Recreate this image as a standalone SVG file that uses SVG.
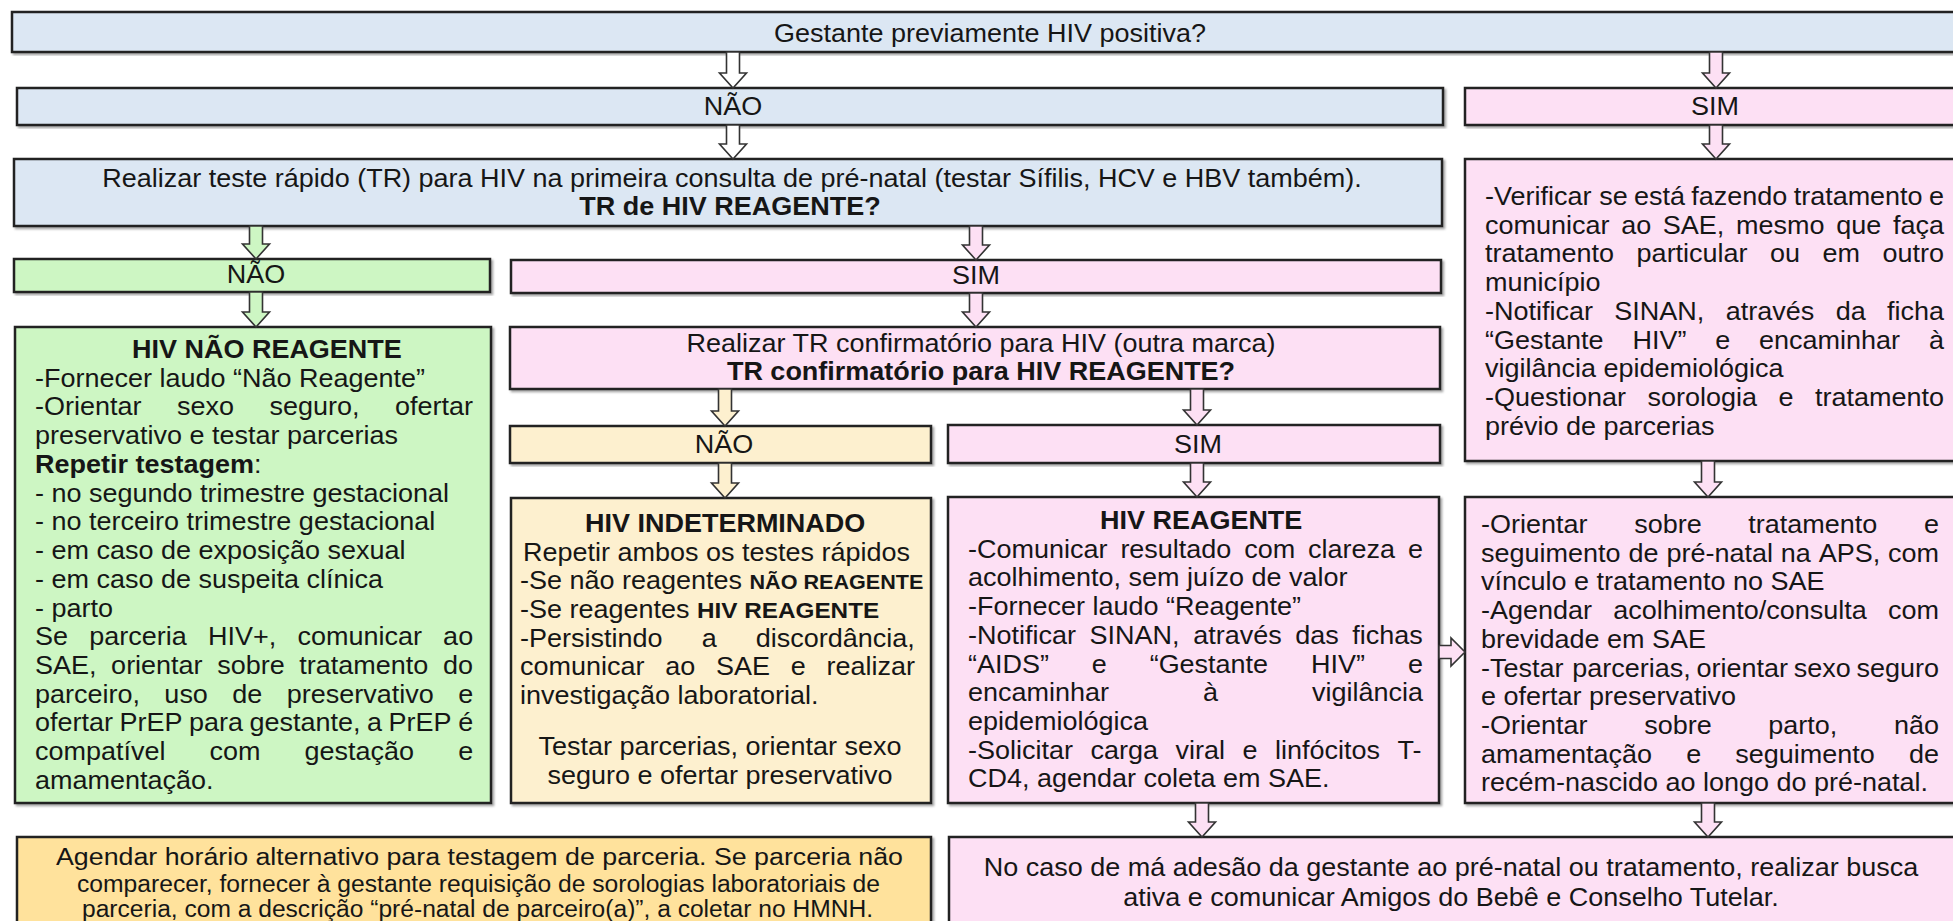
<svg xmlns="http://www.w3.org/2000/svg" width="1953" height="921" viewBox="0 0 1953 921">
<defs>
<filter id="sh" x="-2%" y="-5%" width="104%" height="115%"><feDropShadow dx="2" dy="2" stdDeviation="1.2" flood-color="#000" flood-opacity="0.35"/></filter>
<style>
.b{stroke:#222;stroke-width:2.5;filter:url(#sh)}
.blue{fill:#dce7f3}.pink{fill:#fde0f4}.green{fill:#cdf6c3}.ylw{fill:#fdf0cf}.ylw2{fill:#ffe29c}
.arr{stroke:#333;stroke-width:1.6;stroke-linejoin:miter}
.aw{fill:#ffffff}.ap{fill:#fde0f4}.ag{fill:#cdf6c3}.ay{fill:#fdf0cf}
text{font-family:"Liberation Sans",Arial,Helvetica,sans-serif;font-size:25px;fill:#161616}
.c{text-anchor:middle}.bd{font-weight:bold}.s20{font-size:20px}.s22{font-size:22.5px}.s23{font-size:23px}
</style>
</defs>
<rect width="1953" height="921" fill="#ffffff"/>

<g id="q1">
<rect class="b blue" x="12" y="12" width="1948" height="40"/>
<text class="c" transform="translate(990 42) scale(1.08 1)">Gestante previamente HIV positiva?</text>
</g>
<g id="nao1">
<rect class="b blue" x="17" y="88" width="1426" height="37"/>
<text class="c" transform="translate(733 115) scale(1.08 1)">NÃO</text>
</g>
<g id="sim1">
<rect class="b pink" x="1465" y="88" width="495" height="37"/>
<text class="c" transform="translate(1715 115) scale(1.08 1)">SIM</text>
</g>
<g id="tr1">
<rect class="b blue" x="14" y="159" width="1428" height="67"/>
<text class="c" transform="translate(732 187) scale(1.08 1)">Realizar teste rápido (TR) para HIV na primeira consulta de pré-natal (testar Sífilis, HCV e HBV também).</text>
<text class="c bd" transform="translate(730 215) scale(1.08 1)">TR de HIV REAGENTE?</text>
</g>
<g id="pos">
<rect class="b pink" x="1465" y="159" width="495" height="302"/>
<g transform="translate(1485 0) scale(1.08 1)">
<text y="205"><tspan x="0">-Verificar</tspan> <tspan x="105.8">se</tspan> <tspan x="138">está</tspan> <tspan x="191">fazendo</tspan> <tspan x="285.8">tratamento</tspan> <tspan x="411.1">e</tspan></text>
<text y="233.7"><tspan x="0">comunicar</tspan> <tspan x="126.1">ao</tspan> <tspan x="164.7">SAE,</tspan> <tspan x="232.5">mesmo</tspan> <tspan x="325.3">que</tspan> <tspan x="377.8">faça</tspan></text>
<text y="262.4"><tspan x="0">tratamento</tspan> <tspan x="140.4">particular</tspan> <tspan x="264">ou</tspan> <tspan x="312.6">em</tspan> <tspan x="368.1">outro</tspan></text>
<text x="0" y="291.2">município</text>
<text y="319.9"><tspan x="0">-Notificar</tspan> <tspan x="119.8">SINAN,</tspan> <tspan x="223">através</tspan> <tspan x="324.7">da</tspan> <tspan x="372.3">ficha</tspan></text>
<text y="348.6"><tspan x="0">“Gestante</tspan> <tspan x="136.5">HIV”</tspan> <tspan x="213.2">e</tspan> <tspan x="253.8">encaminhar</tspan> <tspan x="411.1">à</tspan></text>
<text x="0" y="377.3">vigilância epidemiológica</text>
<text y="406"><tspan x="0">-Questionar</tspan> <tspan x="150.5">sorologia</tspan> <tspan x="271.8">e</tspan> <tspan x="305.5">tratamento</tspan></text>
<text x="0" y="434.8">prévio de parcerias</text>
</g>
</g>
<g id="nao2">
<rect class="b green" x="14" y="259" width="476" height="33"/>
<text class="c" transform="translate(256 283) scale(1.08 1)">NÃO</text>
</g>
<g id="sim2">
<rect class="b pink" x="511" y="260" width="930" height="33"/>
<text class="c" transform="translate(976 284) scale(1.08 1)">SIM</text>
</g>
<g id="naoreag">
<rect class="b green" x="15" y="327" width="476" height="476"/>
<g transform="translate(35 0) scale(1.08 1)">
<text x="89.8" y="358" class="bd">HIV NÃO REAGENTE</text>
<text x="0" y="386.7">-Fornecer laudo “Não Reagente”</text>
<text y="415.5"><tspan x="0">-Orientar</tspan> <tspan x="131.5">sexo</tspan> <tspan x="217.1">seguro,</tspan> <tspan x="333.3">ofertar</tspan></text>
<text x="0" y="444.2">preservativo e testar parcerias</text>
<text x="0" y="472.9"><tspan class="bd">Repetir testagem</tspan>:</text>
<text x="0" y="501.7">- no segundo trimestre gestacional</text>
<text x="0" y="530.4">- no terceiro trimestre gestacional</text>
<text x="0" y="559.1">- em caso de exposição sexual</text>
<text x="0" y="587.8">- em caso de suspeita clínica</text>
<text x="0" y="616.6">- parto</text>
<text y="645.3"><tspan x="0">Se</tspan> <tspan x="50.2">parceria</tspan> <tspan x="160.1">HIV+,</tspan> <tspan x="243">comunicar</tspan> <tspan x="377.9">ao</tspan></text>
<text y="674"><tspan x="0">SAE,</tspan> <tspan x="70.5">orientar</tspan> <tspan x="168.7">sobre</tspan> <tspan x="244.7">tratamento</tspan> <tspan x="377.8">do</tspan></text>
<text y="702.8"><tspan x="0">parceiro,</tspan> <tspan x="119.8">uso</tspan> <tspan x="182.7">de</tspan> <tspan x="233.1">preservativo</tspan> <tspan x="391.8">e</tspan></text>
<text y="731.5"><tspan x="0">ofertar</tspan> <tspan x="78.2">PrEP</tspan> <tspan x="142.6">para</tspan> <tspan x="198.6">gestante,</tspan> <tspan x="307.5">a</tspan> <tspan x="327.4">PrEP</tspan> <tspan x="391.8">é</tspan></text>
<text y="760.2"><tspan x="0">compatível</tspan> <tspan x="161.6">com</tspan> <tspan x="249.5">gestação</tspan> <tspan x="391.8">e</tspan></text>
<text x="0" y="789">amamentação.</text>
</g>
</g>
<g id="tr2">
<rect class="b pink" x="510" y="327" width="930" height="62"/>
<text class="c" transform="translate(981 352) scale(1.08 1)">Realizar TR confirmatório para HIV (outra marca)</text>
<text class="c bd" transform="translate(981 380) scale(1.08 1)">TR confirmatório para HIV REAGENTE?</text>
</g>
<g id="nao3">
<rect class="b ylw" x="510" y="426" width="421" height="37"/>
<text class="c" transform="translate(724 453) scale(1.08 1)">NÃO</text>
</g>
<g id="sim3">
<rect class="b pink" x="948" y="425" width="492" height="38"/>
<text class="c" transform="translate(1198 453) scale(1.08 1)">SIM</text>
</g>
<g id="indet">
<rect class="b ylw" x="511" y="498" width="420" height="305"/>
<g transform="translate(520 0) scale(1.08 1)">
<text x="60.2" y="532" class="bd">HIV INDETERMINADO</text>
<text x="2.8" y="560.7">Repetir ambos os testes rápidos</text>
<text x="0" y="589.4">-Se não reagentes <tspan class="bd s20">NÃO REAGENTE</tspan></text>
<text x="0" y="618.1">-Se reagentes <tspan class="bd s22">HIV REAGENTE</tspan></text>
<text y="646.8"><tspan x="0">-Persistindo</tspan> <tspan x="168.2">a</tspan> <tspan x="218.4">discordância,</tspan></text>
<text y="675.5"><tspan x="0">comunicar</tspan> <tspan x="134.5">ao</tspan> <tspan x="181.5">SAE</tspan> <tspan x="250.7">e</tspan> <tspan x="283.8">realizar</tspan></text>
<text x="0" y="704.2">investigação laboratorial.</text>
<text class="c" x="185.2" y="755">Testar parcerias, orientar sexo</text>
<text class="c" x="185.2" y="784">seguro e ofertar preservativo</text>
</g>
</g>
<g id="reag">
<rect class="b pink" x="948" y="497" width="491" height="306"/>
<g transform="translate(968 0) scale(1.08 1)">
<text x="122.2" y="529" class="bd">HIV REAGENTE</text>
<text y="557.7"><tspan x="0">-Comunicar</tspan> <tspan x="141.1">resultado</tspan> <tspan x="255.8">com</tspan> <tspan x="314.9">clareza</tspan> <tspan x="407.4">e</tspan></text>
<text x="0" y="586.4">acolhimento, sem juízo de valor</text>
<text x="0" y="615.2">-Fornecer laudo “Reagente”</text>
<text y="643.9"><tspan x="0">-Notificar</tspan> <tspan x="112.6">SINAN,</tspan> <tspan x="208.5">através</tspan> <tspan x="303.1">das</tspan> <tspan x="355.9">fichas</tspan></text>
<text y="672.6"><tspan x="0">“AIDS”</tspan> <tspan x="114.7">e</tspan> <tspan x="168.2">“Gestante</tspan> <tspan x="317.7">HIV”</tspan> <tspan x="407.4">e</tspan></text>
<text y="701.3"><tspan x="0">encaminhar</tspan> <tspan x="217.6">à</tspan> <tspan x="318.5">vigilância</tspan></text>
<text x="0" y="730">epidemiológica</text>
<text y="758.8"><tspan x="0">-Solicitar</tspan> <tspan x="113.4">carga</tspan> <tspan x="192.1">viral</tspan> <tspan x="254.2">e</tspan> <tspan x="284.3">linfócitos</tspan> <tspan x="397.7">T-</tspan></text>
<text x="0" y="787.5">CD4, agendar coleta em SAE.</text>
</g>
</g>
<g id="orient">
<rect class="b pink" x="1465" y="497" width="495" height="306"/>
<g transform="translate(1481 0) scale(1.08 1)">
<text y="533"><tspan x="0">-Orientar</tspan> <tspan x="141.8">sobre</tspan> <tspan x="247.4">tratamento</tspan> <tspan x="410.2">e</tspan></text>
<text y="561.7"><tspan x="0">seguimento</tspan> <tspan x="136.6">de</tspan> <tspan x="171.7">pré-natal</tspan> <tspan x="277.6">na</tspan> <tspan x="312.7">APS,</tspan> <tspan x="376.9">com</tspan></text>
<text x="0" y="590.4">vínculo e tratamento no SAE</text>
<text y="619.2"><tspan x="0">-Agendar</tspan> <tspan x="122.5">acolhimento/consulta</tspan> <tspan x="376.9">com</tspan></text>
<text x="0" y="647.9">brevidade em SAE</text>
<text y="676.6"><tspan x="0">-Testar</tspan> <tspan x="84.5">parcerias,</tspan> <tspan x="199.5">orientar</tspan> <tspan x="289.6">sexo</tspan> <tspan x="347.7">seguro</tspan></text>
<text x="0" y="705.3">e ofertar preservativo</text>
<text y="734"><tspan x="0">-Orientar</tspan> <tspan x="151.1">sobre</tspan> <tspan x="266">parto,</tspan> <tspan x="382.4">não</tspan></text>
<text y="762.8"><tspan x="0">amamentação</tspan> <tspan x="190">e</tspan> <tspan x="235.5">seguimento</tspan> <tspan x="396.3">de</tspan></text>
<text x="0" y="791.5">recém-nascido ao longo do pré-natal.</text>
</g>
</g>
<g id="parceria">
<rect class="b ylw2" x="17" y="837" width="914" height="110"/>
<text class="c s23" x="479.5" y="865" textLength="847" lengthAdjust="spacingAndGlyphs">Agendar horário alternativo para testagem de parceria. Se parceria não</text>
<text class="c s23" x="478.5" y="892" textLength="803" lengthAdjust="spacingAndGlyphs">comparecer, fornecer à gestante requisição de sorologias laboratoriais de</text>
<text class="c s23" x="477.5" y="917" textLength="791" lengthAdjust="spacingAndGlyphs">parceria, com a descrição “pré-natal de parceiro(a)”, a coletar no HMNH.</text>
</g>
<g id="adesao">
<rect class="b pink" x="949" y="837" width="1011" height="110"/>
<text class="c" transform="translate(1451 876) scale(1.08 1)">No caso de má adesão da gestante ao pré-natal ou tratamento, realizar busca</text>
<text class="c" transform="translate(1451 906) scale(1.08 1)">ativa e comunicar Amigos do Bebê e Conselho Tutelar.</text>
</g>

<g id="connectors">
<path class="arr aw" d="M726.5 52H739.5V73H746.5L733 88L719.5 73H726.5Z"/>
<path class="arr ap" d="M1709.5 52H1722.5V73H1729.5L1716 88L1702.5 73H1709.5Z"/>
<path class="arr aw" d="M726.5 125H739.5V144H746.5L733 159L719.5 144H726.5Z"/>
<path class="arr ap" d="M1709.5 125H1722.5V144H1729.5L1716 159L1702.5 144H1709.5Z"/>
<path class="arr ag" d="M249.5 226H262.5V244H269.5L256 259L242.5 244H249.5Z"/>
<path class="arr ap" d="M969.5 226H982.5V245H989.5L976 260L962.5 245H969.5Z"/>
<path class="arr ag" d="M249.5 292H262.5V312H269.5L256 327L242.5 312H249.5Z"/>
<path class="arr ap" d="M969.5 293H982.5V312H989.5L976 327L962.5 312H969.5Z"/>
<path class="arr ay" d="M718.5 389H731.5V411H738.5L725 426L711.5 411H718.5Z"/>
<path class="arr ap" d="M1190.5 389H1203.5V410H1210.5L1197 425L1183.5 410H1190.5Z"/>
<path class="arr ay" d="M718.5 463H731.5V483H738.5L725 498L711.5 483H718.5Z"/>
<path class="arr ap" d="M1190.5 463H1203.5V482H1210.5L1197 497L1183.5 482H1190.5Z"/>
<path class="arr ap" d="M1701.5 461H1714.5V482H1721.5L1708 497L1694.5 482H1701.5Z"/>
<path class="arr ap" d="M1195.5 803H1208.5V822H1215.5L1202 837L1188.5 822H1195.5Z"/>
<path class="arr ap" d="M1701.5 803H1714.5V822H1721.5L1708 837L1694.5 822H1701.5Z"/>
<path class="arr ap" d="M1439 645.5V658.5H1451V666L1465 652L1451 638V645.5Z"/>
</g>
</svg>
